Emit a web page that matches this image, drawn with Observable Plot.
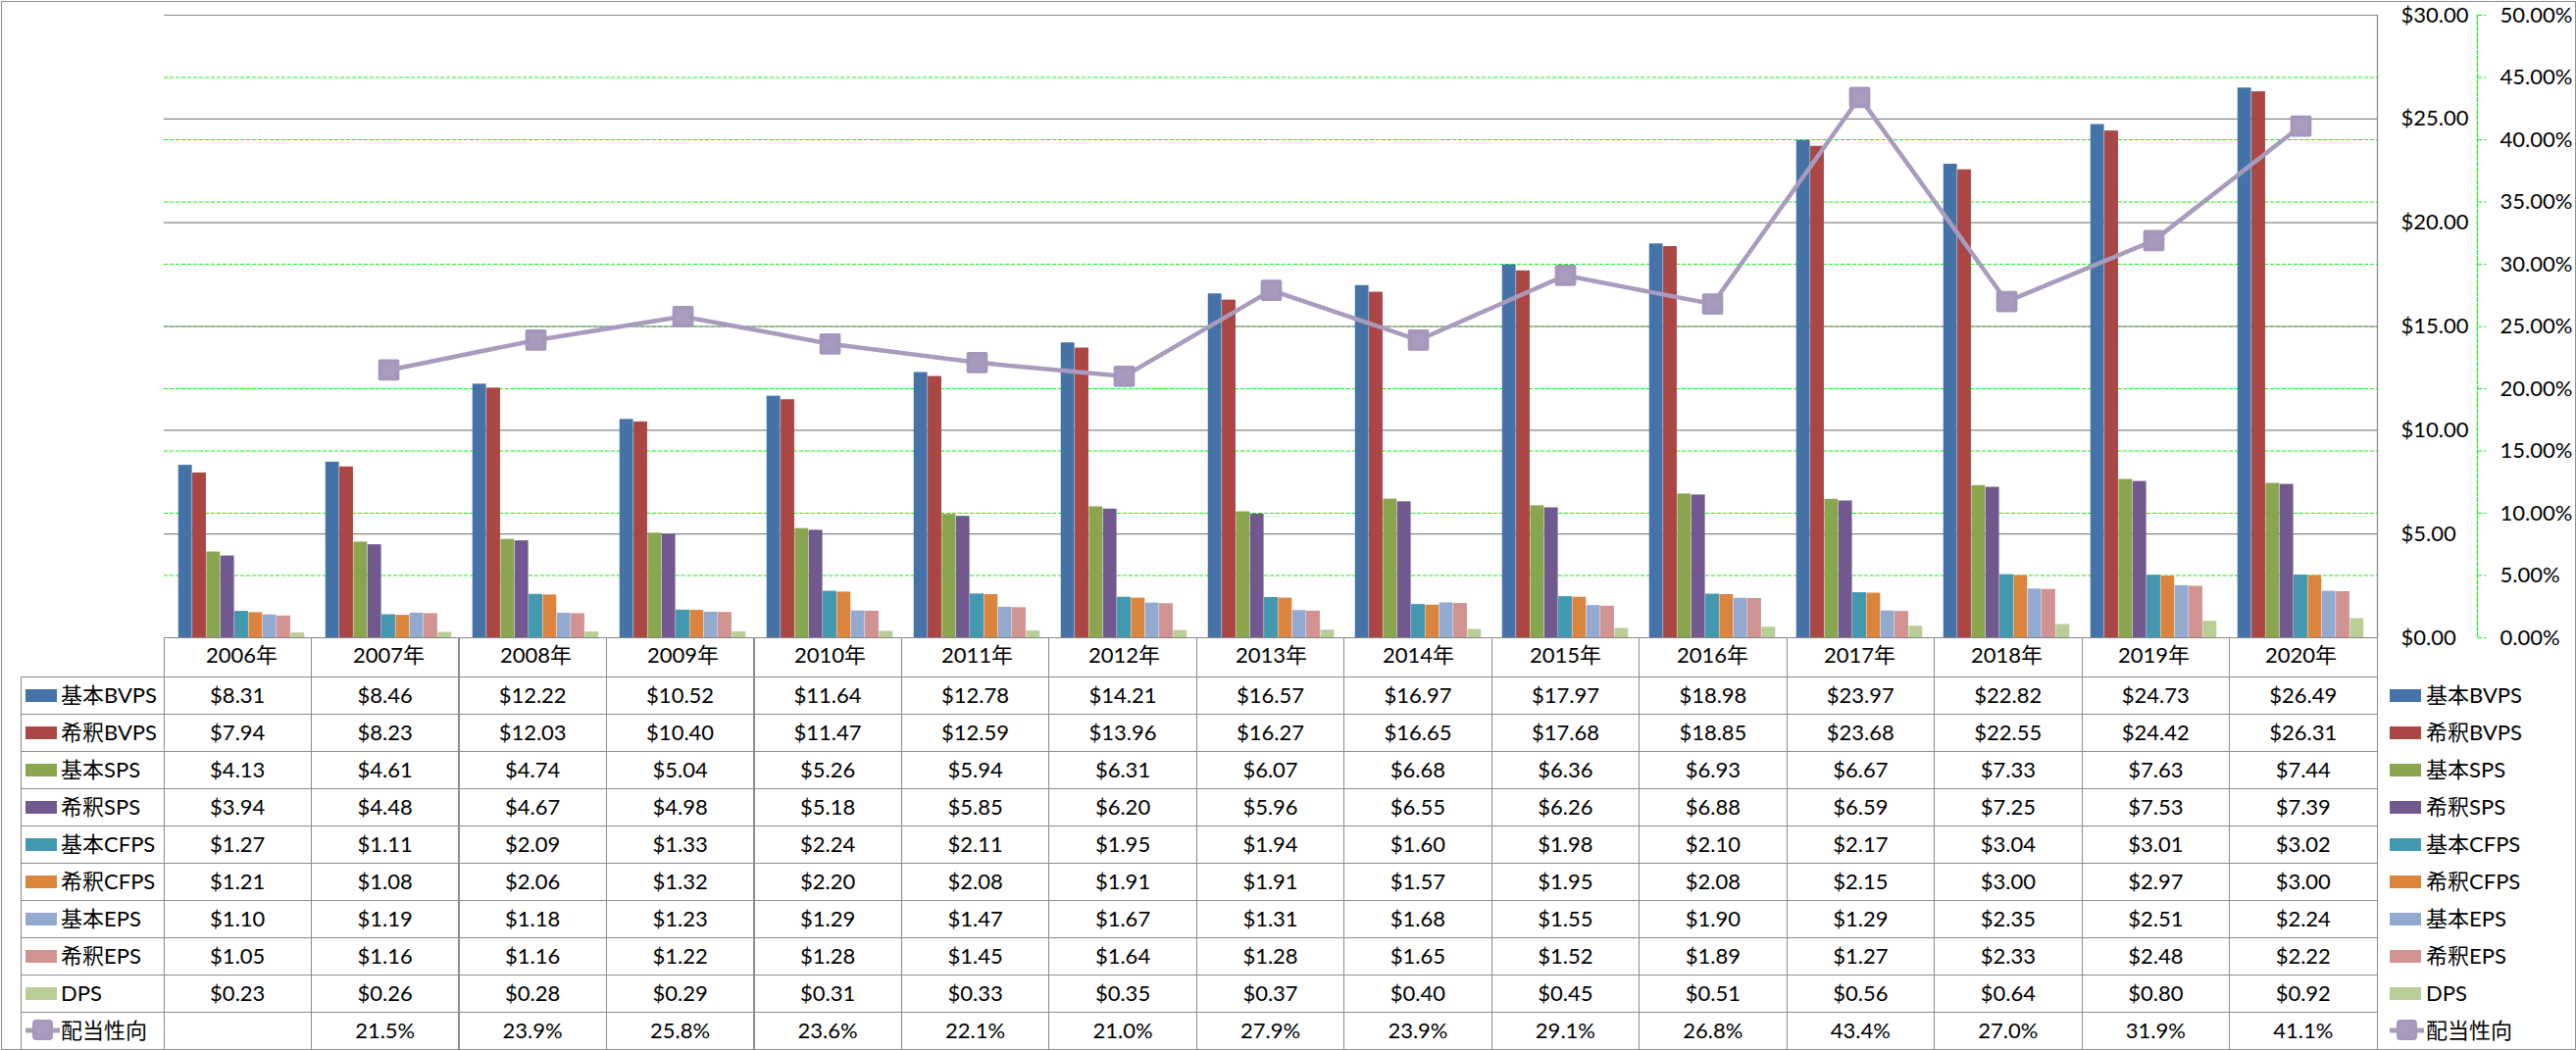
<!DOCTYPE html>
<html><head><meta charset="utf-8">
<script src="https://cdn.jsdelivr.net/npm/d3@7"></script>
<script src="https://cdn.jsdelivr.net/npm/@observablehq/plot@0.6"></script>
<style>
html,body{margin:0;padding:0;background:#fff;}
#wrap{position:relative;width:2627px;height:1071px;overflow:hidden;font-family:Lato,"Noto Sans CJK JP",sans-serif;font-size:22px;color:#000;}
#wrap svg{position:absolute;left:0;top:0;}
.hl,.vl{position:absolute;background:#8c8c8c;}
.cell{position:absolute;text-align:center;white-space:nowrap;}
.lab{position:absolute;white-space:nowrap;}
.sw{position:absolute;}
#frameBox{position:absolute;left:1px;top:1px;width:2626px;height:1070px;box-sizing:border-box;border:1px solid #8c8c8c;}
</style></head><body><div id="wrap"><div id="frameBox"></div></div>
<script>
const years = ["2006","2007","2008","2009","2010","2011","2012","2013","2014","2015","2016","2017","2018","2019","2020"];
const seriesNames = ["基本BVPS","希釈BVPS","基本SPS","希釈SPS","基本CFPS","希釈CFPS","基本EPS","希釈EPS","DPS"];
const basicBVPS   = [8.31,8.46,12.22,10.52,11.64,12.78,14.21,16.57,16.97,17.97,18.98,23.97,22.82,24.73,26.49];
const dilutedBVPS = [7.94,8.23,12.03,10.40,11.47,12.59,13.96,16.27,16.65,17.68,18.85,23.68,22.55,24.42,26.31];
const basicSPS    = [4.13,4.61,4.74,5.04,5.26,5.94,6.31,6.07,6.68,6.36,6.93,6.67,7.33,7.63,7.44];
const dilutedSPS  = [3.94,4.48,4.67,4.98,5.18,5.85,6.20,5.96,6.55,6.26,6.88,6.59,7.25,7.53,7.39];
const basicCFPS   = [1.27,1.11,2.09,1.33,2.24,2.11,1.95,1.94,1.60,1.98,2.10,2.17,3.04,3.01,3.02];
const dilutedCFPS = [1.21,1.08,2.06,1.32,2.20,2.08,1.91,1.91,1.57,1.95,2.08,2.15,3.00,2.97,3.00];
const basicEPS    = [1.10,1.19,1.18,1.23,1.29,1.47,1.67,1.31,1.68,1.55,1.90,1.29,2.35,2.51,2.24];
const dilutedEPS  = [1.05,1.16,1.16,1.22,1.28,1.45,1.64,1.28,1.65,1.52,1.89,1.27,2.33,2.48,2.22];
const DPS         = [0.23,0.26,0.28,0.29,0.31,0.33,0.35,0.37,0.40,0.45,0.51,0.56,0.64,0.80,0.92];
const payoutName  = "配当性向";
const payoutRatio = [null,21.5,23.9,25.8,23.6,22.1,21.0,27.9,23.9,29.1,26.8,43.4,27.0,31.9,41.1];
const dollarTicks = [0,5,10,15,20,25,30];
const pctTicks    = [0,5,10,15,20,25,30,35,40,45,50];
const seriesColors = ["#4572A7","#AA4643","#89A54E","#71588F","#4198AF","#DB843D","#93A9CF","#D19392","#B9CD96"];
const lineColor = "#A99BBD";

const seriesValues = [basicBVPS,dilutedBVPS,basicSPS,dilutedSPS,basicCFPS,dilutedCFPS,basicEPS,dilutedEPS,DPS];

// layout
const W = 2627, H = 1071;
const plotLeft = 167, plotRight = 2424, plotTop = 15, plotBottom = 650;
const step = (plotRight - plotLeft) / years.length;
const barW = step / 10.5, gap = barW * 0.75;
const k = 30 / 50; // percent -> dollar scale
const tableLeft = 21, headerH = 40, rowH = 38;

const barMarks = seriesNames.map((name, i) =>
  Plot.barY(years.map((y, j) => ({year: y, value: seriesValues[i][j], series: name})), {
    x: "year", y: "value", fill: seriesColors[i],
    insetLeft: gap + i * barW, insetRight: step - gap - (i + 1) * barW
  })
);
const lineData = years.map((y, j) => ({year: y, pct: payoutRatio[j]})).filter(d => d.pct != null);

const chart = Plot.plot({
  width: W, height: H,
  marginLeft: plotLeft, marginRight: W - plotRight, marginTop: plotTop, marginBottom: H - plotBottom,
  style: {fontFamily: 'Lato, "Noto Sans CJK JP", sans-serif', fontSize: "22px", background: "transparent", color: "#000", overflow: "visible"},
  x: {type: "band", domain: years, padding: 0, label: null},
  y: {domain: [0, 30], label: null},
  marks: [
    Plot.ruleY(pctTicks.filter(p => p > 0 && p < 50).map(p => p * k), {stroke: "#00ff00", strokeWidth: 1.2, strokeDasharray: "4,2"}),
    Plot.ruleY(dollarTicks, {stroke: "#868686", strokeWidth: 1.2}),
    ...barMarks,
    Plot.line(lineData, {x: "year", y: d => d.pct * k, stroke: lineColor, strokeWidth: 4.5}),
    Plot.dot(lineData, {x: "year", y: d => d.pct * k, symbol: "square", r: 10, fill: lineColor, stroke: "#A597BC", strokeWidth: 4, strokeLinejoin: "round"}),
    Plot.axisY({anchor: "right", label: null, ticks: dollarTicks, tickSize: 0, tickPadding: 24, tickFormat: d => "$" + d.toFixed(2), textAnchor: "start"}),
    Plot.frame({anchor: "right", stroke: "#868686", strokeWidth: 1.2}),
    Plot.axisY({anchor: "right", label: null, ticks: pctTicks.map(p => p * k), tickSize: 8, tickPadding: 15, dx: 102,
      stroke: "#00ff00", strokeDasharray: "4,2", fill: "#000", tickFormat: d => (d / k).toFixed(2) + "%"}),
    Plot.frame({anchor: "right", dx: 102, stroke: "#00ff00", strokeDasharray: "4,2", strokeWidth: 1.2}),
    Plot.axisX({label: null, tickSize: 0, tickPadding: 10, tickFormat: d => d + "年"})
  ]
});
const wrap = document.getElementById("wrap");
wrap.appendChild(chart);

// data table (HTML text overlay aligned to the band scale)
function div(cls, l, t, w, h, extra) {
  const e = document.createElement("div");
  e.className = cls;
  Object.assign(e.style, {left: l + "px", top: t + "px", width: w + "px", height: h + "px"}, extra || {});
  wrap.appendChild(e);
  return e;
}
const rowsTop = plotBottom + headerH;
const nRows = seriesNames.length + 1;
for (let r = 0; r <= nRows; r++) div("hl", tableLeft, rowsTop + r * rowH - 0.5, plotRight - tableLeft + 1, 1.2);
div("vl", tableLeft, rowsTop, 1.2, nRows * rowH);
for (let c = 0; c <= years.length; c++) div("vl", plotLeft + c * step - 0.5, plotBottom, 1.2, H - plotBottom);

const rowLabels = [...seriesNames, payoutName];
const rowValues = [...seriesValues.map(arr => arr.map(v => "$" + v.toFixed(2))), payoutRatio.map(v => v == null ? "" : v.toFixed(1) + "%")];
rowLabels.forEach((name, r) => {
  const top = rowsTop + r * rowH;
  rowValues[r].forEach((txt, c) => {
    const e = div("cell", plotLeft + c * step, top, step, rowH, {lineHeight: rowH + "px"});
    e.textContent = txt;
  });
  // legend entries: left (in table) and right
  [[tableLeft + 5, tableLeft + 41], [2437, 2474]].forEach(([sx, tx]) => {
    if (r < seriesNames.length) {
      div("sw", sx, top + 13, 32, 13, {background: seriesColors[r]});
    } else {
      const s = document.createElementNS("http://www.w3.org/2000/svg", "svg");
      s.setAttribute("width", 36); s.setAttribute("height", 26);
      s.style.position = "absolute"; s.style.left = sx + "px"; s.style.top = (top + 6) + "px";
      s.innerHTML = `<line x1="0" y1="13" x2="35" y2="13" stroke="${lineColor}" stroke-width="5"/>` +
        `<rect x="8" y="3" width="19" height="19" rx="3" fill="${lineColor}" stroke="#A597BC" stroke-width="2"/>`;
      wrap.appendChild(s);
    }
    const t = div("lab", tx, top, 140, rowH, {lineHeight: rowH + "px"});
    t.textContent = name;
  });
});
</script></body></html>
